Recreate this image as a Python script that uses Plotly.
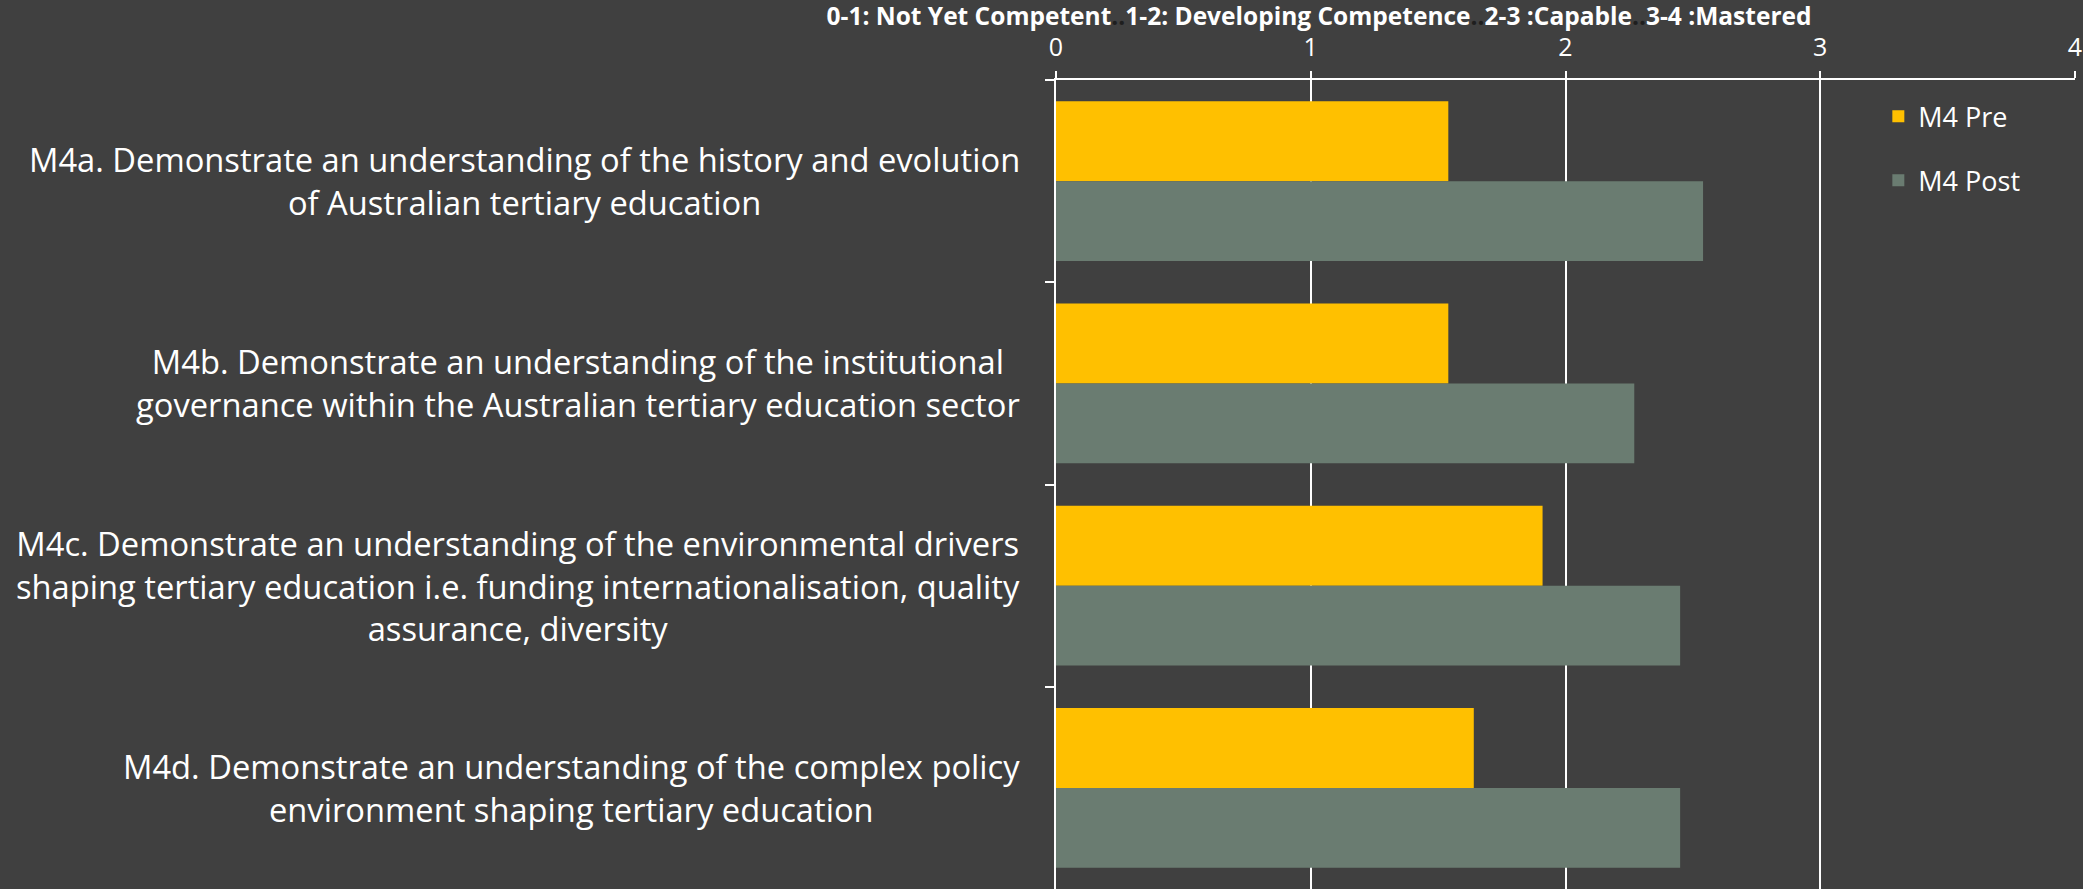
import plotly.graph_objects as go

BG = "#404040"
PRE_COLOR = "#FFC000"
POST_COLOR = "#6A7C71"
FONT = "Open Sans"

labels = [
    "M4a. Demonstrate an understanding of the history and evolution<br>of Australian tertiary education",
    "M4b. Demonstrate an understanding of the institutional<br>governance within the Australian tertiary education sector",
    "M4c. Demonstrate an understanding of the environmental drivers<br>shaping tertiary education i.e. funding internationalisation, quality<br>assurance, diversity",
    "M4d. Demonstrate an understanding of the complex policy<br>environment shaping tertiary education",
]
pre_scores = [1.54, 1.54, 1.91, 1.64]
post_scores = [2.54, 2.27, 2.45, 2.45]
x_ticks = [0, 1, 2, 3, 4]

dots = '<span style="color:#1e1e1e">..</span>'
title_text = ("0-1: Not Yet Competent" + dots + "1-2: Developing Competence" + dots
              + "2-3 :Capable" + dots + "3-4 :Mastered")

fig = go.Figure()
fig.add_trace(go.Bar(
    y=labels, x=pre_scores, orientation="h", name="M4 Pre",
    marker=dict(color=PRE_COLOR, line=dict(width=0)), legendgroup="pre",
))
fig.add_trace(go.Bar(
    y=labels, x=post_scores, orientation="h", name="M4 Post",
    marker=dict(color=POST_COLOR, line=dict(width=0)), legendgroup="post",
))

# category labels, centred multi-line like the original
for lab in labels:
    fig.add_annotation(
        x=0, xref="paper", y=lab, yref="y", xshift=-34, xanchor="right",
        text=lab, showarrow=False, align="center",
        font=dict(family=FONT, size=32.7, color="white"),
    )

fig.update_layout(
    width=2083, height=889,
    paper_bgcolor=BG, plot_bgcolor=BG,
    margin=dict(l=1056, r=8, t=80, b=0),
    barmode="group", bargap=0.21, bargroupgap=0,
    font=dict(family=FONT, color="white"),
    title=dict(
        text="<b>" + title_text + "</b>", x=1319 / 2083, xanchor="center",
        y=1 - 16 / 889, yanchor="middle", yref="container",
        font=dict(family=FONT, size=24.5, color="white"),
    ),
    legend=dict(
        x=0.807, y=0.985, xanchor="left", yanchor="top",
        bgcolor="rgba(0,0,0,0)", font=dict(size=27, color="white"),
        tracegroupgap=26, traceorder="grouped",
    ),
    xaxis=dict(
        side="top", range=[0, 4], tickvals=x_ticks,
        showgrid=True, gridcolor="white", gridwidth=2,
        showline=True, linecolor="white", linewidth=2,
        ticks="outside", ticklen=7, tickcolor="white", tickwidth=2,
        tickfont=dict(family=FONT, size=25, color="white"),
        ticklabelstandoff=5, zeroline=False,
    ),
    yaxis=dict(
        autorange="reversed", showticklabels=False,
        showline=True, linecolor="white", linewidth=2,
        ticks="outside", tickson="boundaries", ticklen=9,
        tickcolor="white", tickwidth=2, showgrid=False,
    ),
)

fig.write_html("out.html", config={"displayModeBar": False},
               post_script="document.body.style.margin='0';")
